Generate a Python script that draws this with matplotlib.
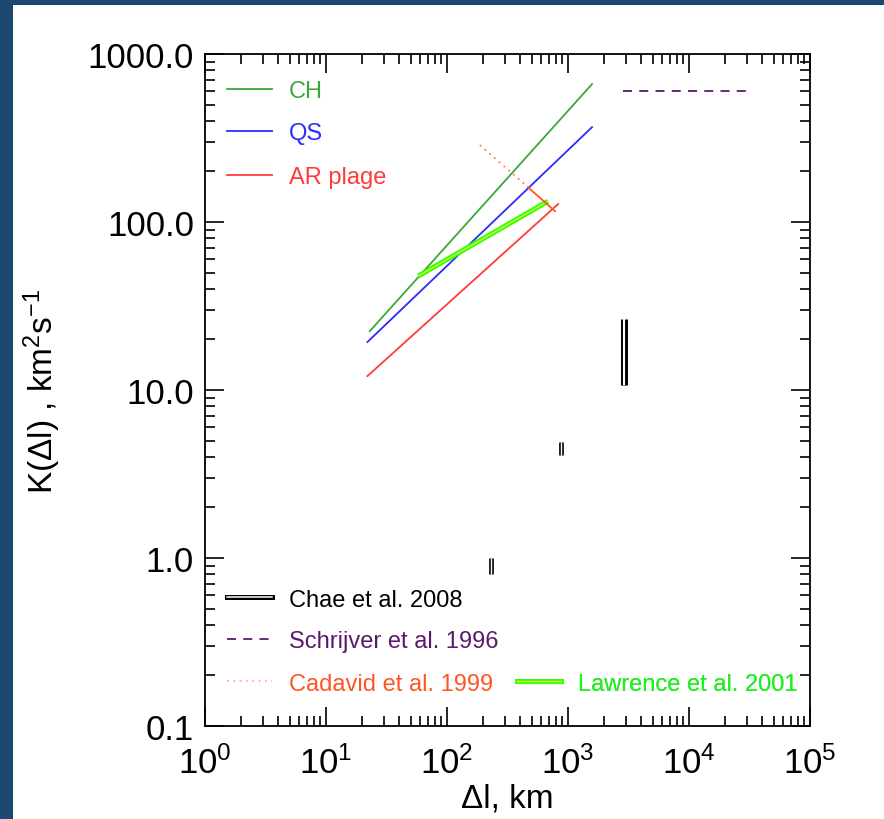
import matplotlib
matplotlib.use('Agg')
import matplotlib.pyplot as plt
from matplotlib.lines import Line2D
from matplotlib.patches import Rectangle
from matplotlib.ticker import FormatStrFormatter, LogLocator, NullFormatter

plt.rcParams['font.family'] = ['Liberation Sans', 'DejaVu Sans']
plt.rcParams['mathtext.fontset'] = 'custom'
plt.rcParams['mathtext.rm'] = 'Liberation Sans'
plt.rcParams['mathtext.it'] = 'Liberation Sans:italic'

# степеневі закони K(dl) для CH, QS та AR plage
ch_x = [23, 1580]
ch_k = [22.4, 662]
qs_x = [22, 1580]
qs_k = [19.3, 367]
ar_x = [22, 830]
ar_k = [12.1, 128]

# інші роботи
lawrence_x = [58, 684]
lawrence_k = [47.7, 133]
cadavid_x = [187, 467, 781]
cadavid_k = [287, 161, 116]
schrijver_x = [2870, 29400]
schrijver_k = [600, 600]
chae_x = [2900, 875, 231]
chae_lo = [10.7, 4.1, 0.80]
chae_hi = [26.5, 4.9, 1.0]
chae_lw = [5.0, 3.4, 3.4]

c_ch = '#3aa83a'
c_qs = '#2b2bff'
c_ar = '#ff3b3b'
c_sch = '#5a1a6c'
c_cad = '#ff5522'
c_law = '#33ff00'

fig = plt.figure(figsize=(8.84, 8.2), dpi=100)
fig.patch.set_facecolor('#1d4870')
fig.add_artist(Rectangle((13 / 884, 0), 1, 1 - 6 / 820, transform=fig.transFigure,
                         facecolor='white', edgecolor='none', zorder=0))
ax = fig.add_axes([205 / 884, 93 / 820, 605 / 884, 672 / 820])
ax.set_xscale('log')
ax.set_yscale('log')
ax.set_xlim(1, 1e5)
ax.set_ylim(0.1, 1000)

ax.plot(ch_x, ch_k, color=c_ch, lw=1.3)
ax.plot(qs_x, qs_k, color=c_qs, lw=1.3)
ax.plot(ar_x, ar_k, color=c_ar, lw=1.3)

ax.plot(lawrence_x, lawrence_k, color=c_law, lw=3.6, solid_capstyle='butt')
ax.plot(lawrence_x, lawrence_k, color='#c8ff40', lw=1.0, solid_capstyle='butt')

ax.plot(cadavid_x[:2], cadavid_k[:2], color='#ff7a50', lw=1.3, linestyle=(0, (1, 2.5)))
ax.plot(cadavid_x[1:], cadavid_k[1:], color=c_cad, lw=1.3)

ax.plot(schrijver_x, schrijver_k, color=c_sch, lw=1.3, dashes=(5, 4))

for x, lo, hi, w in zip(chae_x, chae_lo, chae_hi, chae_lw):
    ax.plot([x, x], [lo, hi], color='black', lw=w, solid_capstyle='butt')
    ax.plot([x, x], [lo, hi], color='white', lw=w * 0.3, solid_capstyle='butt')

for axis in (ax.xaxis, ax.yaxis):
    axis.set_major_locator(LogLocator(base=10, numticks=20))
    axis.set_minor_locator(LogLocator(base=10, subs=range(2, 10), numticks=20))
    axis.set_minor_formatter(NullFormatter())
ax.yaxis.set_major_formatter(FormatStrFormatter('%.1f'))
ax.tick_params(which='both', direction='in', top=True, right=True, width=1.2,
               labelsize=25)
ax.tick_params(axis='y', which='both', pad=8)
ax.tick_params(axis='x', which='both', pad=14)
ax.tick_params(which='major', length=14)
ax.tick_params(which='minor', length=7)
for s in ax.spines.values():
    s.set_linewidth(1.3)

ax.set_xlabel('\u0394l, km', fontsize=24, labelpad=2)
ax.set_ylabel('K(\u0394l) , km$^\\mathregular{2}$s$^\\mathregular{-1}$', fontsize=24, labelpad=18)


def key(handles, label, color, x, y):
    leg = ax.legend([tuple(handles)], [label], loc='center left', bbox_to_anchor=(x, y),
                    frameon=False, fontsize=17, handlelength=1.9, handletextpad=0.7,
                    borderpad=0, borderaxespad=0)
    for t in leg.get_texts():
        t.set_color(color)
    ax.add_artist(leg)


key([Line2D([], [], color=c_ch, lw=1.3)], 'CH', c_ch, 0.037, 0.945)
key([Line2D([], [], color=c_qs, lw=1.3)], 'QS', c_qs, 0.037, 0.882)
key([Line2D([], [], color=c_ar, lw=1.3)], 'AR plage', c_ar, 0.037, 0.817)
key([Line2D([], [], color='black', lw=3.6), Line2D([], [], color='white', lw=1.1)],
    'Chae et al. 2008', 'black', 0.037, 0.188)
key([Line2D([], [], color=c_sch, lw=1.3, dashes=(5, 4))],
    'Schrijver et al. 1996', c_sch, 0.037, 0.126)
key([Line2D([], [], color='#ffaaaa', lw=1.3, linestyle=(0, (1, 2.5)))],
    'Cadavid et al. 1999', c_cad, 0.037, 0.063)
key([Line2D([], [], color=c_law, lw=3.6), Line2D([], [], color='#c8ff40', lw=1.0)],
    'Lawrence et al. 2001', '#22ee22', 0.515, 0.063)

fig.savefig('out.png', dpi=100, facecolor=fig.get_facecolor())
